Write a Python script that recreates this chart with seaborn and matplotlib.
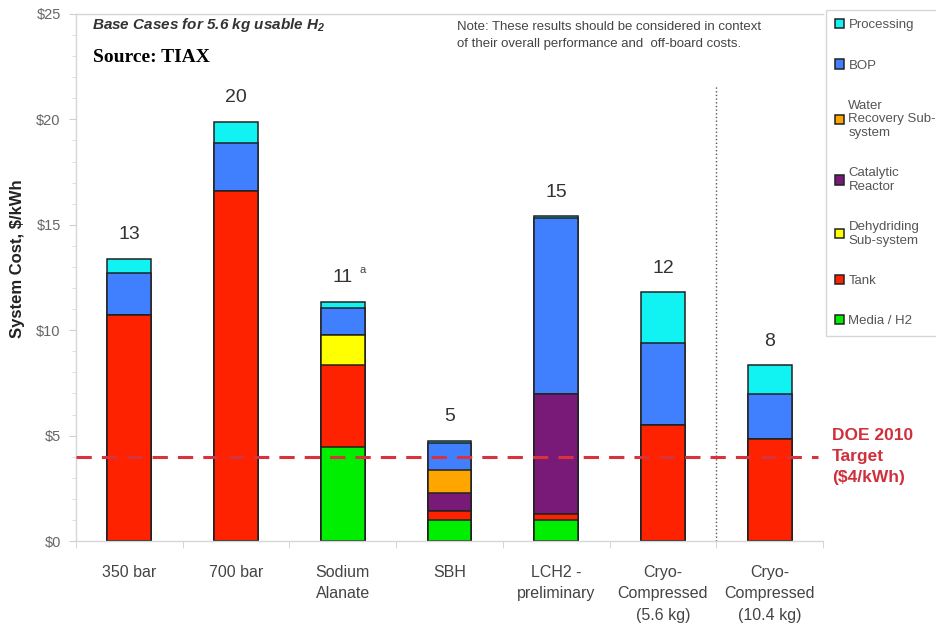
import matplotlib
matplotlib.use("Agg")
import matplotlib.pyplot as plt
from matplotlib.ticker import MultipleLocator, FixedLocator
import numpy as np
import seaborn as sns

# ---- data -------------------------------------------------------------
categories = ["350 bar", "700 bar", "Sodium\nAlanate", "SBH", "LCH2 -\npreliminary",
              "Cryo-\nCompressed\n(5.6 kg)", "Cryo-\nCompressed\n(10.4 kg)"]

# cost components, $/kWh (stacked bottom to top)
media_h2 = [0.0, 0.0, 4.45, 1.0, 1.0, 0.0, 0.0]
tank = [10.7, 16.6, 3.9, 0.4, 0.3, 5.5, 4.85]
dehydriding = [0.0, 0.0, 1.4, 0.0, 0.0, 0.0, 0.0]
catalytic_reactor = [0.0, 0.0, 0.0, 0.9, 5.65, 0.0, 0.0]
water_recovery = [0.0, 0.0, 0.0, 1.05, 0.0, 0.0, 0.0]
bop = [2.0, 2.3, 1.3, 1.3, 8.35, 3.9, 2.1]
processing = [0.7, 1.0, 0.3, 0.1, 0.1, 2.4, 1.4]

total_labels = ["13", "20", "11", "5", "15", "12", "8"]
y_ticks = [0, 5, 10, 15, 20, 25]
y_tick_labels = ["$0", "$5", "$10", "$15", "$20", "$25"]
doe_target = 4.0

layers = [
    ("Media / H2", media_h2, "#00EE00"),
    ("Tank", tank, "#FF2200"),
    ("Dehydriding\nSub-system", dehydriding, "#FFFF00"),
    ("Catalytic\nReactor", catalytic_reactor, "#7A1A78"),
    ("Water\nRecovery Sub-\nsystem", water_recovery, "#FFA500"),
    ("BOP", bop, "#4080FF"),
    ("Processing", processing, "#11F2F2"),
]

# ---- style ------------------------------------------------------------
sns.set_style("white")
plt.rcParams["font.family"] = ["Liberation Sans", "DejaVu Sans"]
plt.rcParams["mathtext.default"] = "regular"

W, H = 937, 629
fig = plt.figure(figsize=(W / 100, H / 100), dpi=100)
ax = fig.add_axes([76 / W, (H - 541) / H, (823 - 76) / W, (541 - 14) / H])

# stacked bars: draw cumulative heights from the top layer down
cum = np.cumsum(np.array([vals for _, vals, _ in layers]), axis=0)
for i in reversed(range(len(layers))):
    name, _, color = layers[i]
    sns.barplot(x=categories, y=cum[i], color=color, saturation=1, width=0.41,
                edgecolor="#222222", linewidth=1.1, errorbar=None, label=name, ax=ax)

totals = cum[-1]

ax.set_xlim(-0.5, 6.5)
ax.set_ylim(0, 25)

# totals above each bar
for i, lab in enumerate(total_labels):
    ax.annotate(lab, xy=(i, totals[i]), xytext=(0, 14), textcoords="offset points",
                ha="center", va="baseline", fontsize=14, color="#333333")
ax.annotate("a", xy=(2, totals[2]), xytext=(14, 21), textcoords="offset points",
            ha="center", va="baseline", fontsize=8, color="#444444")

# DOE target line and separator
ax.axhline(doe_target, xmin=0, xmax=(818 - 76) / (823 - 76), color="#D8323C",
           lw=2.2, ls=(0, (5, 3.3)), zorder=5)
ax.axvline(5.5, ymin=0, ymax=21.6 / 25, color="#555555", lw=1, ls=":", zorder=1)

# axes and ticks
for side in ["left", "bottom", "top"]:
    ax.spines[side].set_color("#d6d6d6")
    ax.spines[side].set_linewidth(1)
ax.spines["right"].set_visible(False)

ax.set_yticks(y_ticks)
ax.set_yticklabels(y_tick_labels)
ax.yaxis.set_minor_locator(MultipleLocator(1))
ax.tick_params(axis="y", which="major", left=True, length=5, color="#d0d0d0",
               labelsize=10.5, labelcolor="#666666", pad=6)
ax.tick_params(axis="y", which="minor", left=True, length=3, color="#d8d8d8")

ax.set_xticks(range(len(categories)))
ax.set_xticklabels(categories, linespacing=1.55)
ax.xaxis.set_minor_locator(FixedLocator(np.arange(-0.5, 7, 1.0)))
ax.tick_params(axis="x", which="major", length=0, labelsize=11.5,
               labelcolor="#444444", pad=17)
ax.tick_params(axis="x", which="minor", bottom=True, length=5, color="#d0d0d0")
for t in ax.get_xticklabels():
    t.set_verticalalignment("top")

ax.set_xlabel("")
ax.set_ylabel("System Cost, $/kWh", fontsize=12, fontweight="bold", color="#222222")
ax.yaxis.set_label_coords(-0.068, 0.535)

# legend
if ax.get_legend() is not None:
    ax.get_legend().remove()
handles, labels = ax.get_legend_handles_labels()
leg = fig.legend(handles, labels, loc="upper left",
                 bbox_to_anchor=(826 / W, 1 - 10 / H), bbox_transform=fig.transFigure,
                 frameon=True, fancybox=False, edgecolor="#cccccc", fontsize=9.5,
                 labelcolor="#555555", handlelength=0.7, handleheight=0.7,
                 handletextpad=0.3, labelspacing=2.12, borderpad=0.7, borderaxespad=0)
leg.get_frame().set_linewidth(1)

# headings and notes
fig.text(92 / W, 1 - 25 / H, "Base Cases for 5.6 kg usable H$_2$", fontsize=11,
         fontweight="bold", fontstyle="italic", color="#333333", va="center", ha="left")
fig.text(93 / W, 1 - 57 / H, "Source: TIAX", family=["Liberation Serif", "DejaVu Serif"],
         fontsize=14, fontweight="bold", color="black", va="center", ha="left")
fig.text(457 / W, 1 - 21 / H,
         "Note: These results should be considered in context\n"
         "of their overall performance and  off-board costs.",
         fontsize=9.5, color="#444444", va="top", ha="left", linespacing=1.5)
fig.text(832 / W, 1 - 428 / H, "DOE 2010\nTarget\n($4/kWh)", fontsize=12.5,
         fontweight="bold", color="#D0303C", va="top", ha="left", linespacing=1.5)

fig.savefig("out.png", dpi=100)
